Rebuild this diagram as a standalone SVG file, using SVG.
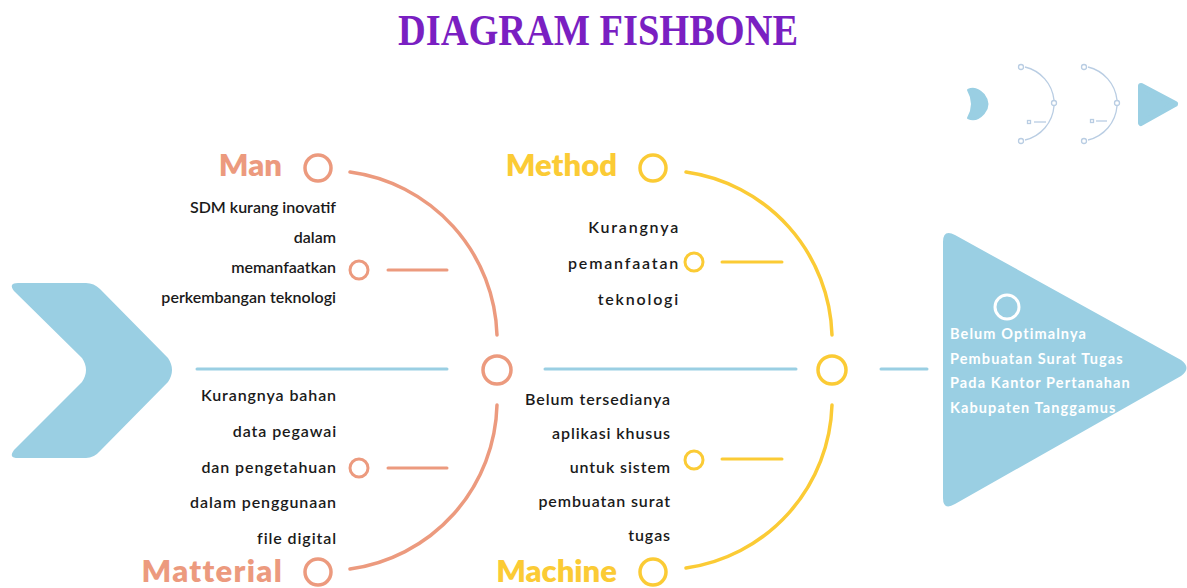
<svg xmlns="http://www.w3.org/2000/svg" width="1187" height="588" viewBox="0 0 1187 588">
<style>
.t{font-family:Lato,"Noto Sans",sans-serif;fill:#1a1a1a;font-size:16px;font-weight:600}
.r{text-anchor:end}
.lab{font-family:Lato,"Noto Sans",sans-serif;font-weight:800;font-size:31px}
.sal{stroke:#EC9A7E;fill:none}
.yel{stroke:#FBCB35;fill:none}
.blu{stroke:#9ACFE3;fill:none}
.ico{stroke:#B9CDE3;fill:none;stroke-width:1.3}
.hd{font-family:Lato,"Noto Sans",sans-serif;fill:#fff;font-size:14.5px;font-weight:700;letter-spacing:1.1px}
</style>
<rect width="1187" height="588" fill="#fff"/>
<text id="title" x="598" y="45" text-anchor="middle" font-family="'Liberation Serif',serif" font-weight="700" font-size="44" fill="#7A1FC2" textLength="400" lengthAdjust="spacingAndGlyphs">DIAGRAM FISHBONE</text>

<g id="icon">
<path d="M968,90 Q976,86 984,95 Q991,104 984,113 Q976,122 968,118 Q976,104 968,90 Z" fill="#9ACFE3" stroke="#9ACFE3" stroke-width="2" stroke-linejoin="round"/>
<path d="M1141,86 L1175,104 L1141,123 Z" fill="#9ACFE3" stroke="#9ACFE3" stroke-width="6" stroke-linejoin="round"/>
<circle class="ico" cx="1021" cy="67" r="2.5"/><circle class="ico" cx="1054" cy="103" r="2.5"/><circle class="ico" cx="1021" cy="141" r="2.5"/>
<path class="ico" d="M1025,67 A38,38 0 0 1 1054,100 M1054,106 A38,38 0 0 1 1025,140"/>
<rect class="ico" x="1027.5" y="120.5" width="3" height="3"/><line class="ico" x1="1034" y1="122" x2="1046" y2="122"/>
<circle class="ico" cx="1084" cy="67" r="2.5"/><circle class="ico" cx="1117" cy="103" r="2.5"/><circle class="ico" cx="1084" cy="141" r="2.5"/>
<path class="ico" d="M1088,67 A38,38 0 0 1 1117,100 M1117,106 A38,38 0 0 1 1088,140"/>
<rect class="ico" x="1090.5" y="119.5" width="3" height="3"/><line class="ico" x1="1096" y1="121" x2="1107" y2="121"/>
</g>

<g id="tail">
<path d="M18,283 L86,283 Q94,283 100,289 L168,358 Q176,370 168,382 L100,451 Q94,458 86,458 L18,458 Q8,458 14,450 L82,382 Q90,370 82,358 L14,291 Q8,283 18,283 Z" fill="#9ACFE3"/>
</g>

<g id="connectors" stroke-linecap="round">
<line class="blu" x1="197" y1="369" x2="447" y2="369" stroke-width="3"/>
<line class="blu" x1="545" y1="369" x2="796" y2="369" stroke-width="3"/>
<line class="blu" x1="881" y1="369" x2="927" y2="369" stroke-width="3"/>
<path class="sal" d="M350,172 A170,170 0 0 1 497,335" stroke-width="3.5"/>
<path class="sal" d="M497,405 A170,170 0 0 1 350,569" stroke-width="3.5"/>
<path class="yel" d="M686,172 A170,170 0 0 1 832,335" stroke-width="3.5"/>
<path class="yel" d="M832,405 A170,170 0 0 1 686,568" stroke-width="3.5"/>
<line class="sal" x1="388" y1="270" x2="447" y2="270" stroke-width="3"/>
<line class="sal" x1="388" y1="468" x2="447" y2="468" stroke-width="3"/>
<line class="yel" x1="722" y1="262" x2="782" y2="262" stroke-width="3"/>
<line class="yel" x1="722" y1="459" x2="782" y2="459" stroke-width="3"/>
</g>

<g id="joint-man"><circle class="sal" cx="497" cy="370" r="14" stroke-width="3.5"/></g>
<g id="joint-method"><circle class="yel" cx="832" cy="370" r="14" stroke-width="3.5"/></g>

<g id="man">
<text class="lab r" x="282" y="176" fill="#EC9A7E">Man</text>
<circle class="sal" cx="318" cy="168" r="13" stroke-width="3.5"/>
<text class="t r" x="336" y="213" font-size="15">SDM kurang inovatif</text>
<text class="t r" x="336" y="243" font-size="15">dalam</text>
<text class="t r" x="336" y="273" font-size="15">memanfaatkan</text>
<text class="t r" x="336" y="303" font-size="15">perkembangan teknologi</text>
<circle class="sal" cx="359" cy="270" r="9" stroke-width="3"/>
</g>

<g id="method">
<text class="lab r" x="617" y="176" fill="#FBCB35">Method</text>
<circle class="yel" cx="653" cy="168" r="13" stroke-width="3.5"/>
<text class="t r" x="680" y="233" font-size="19" letter-spacing="1.8">Kurangnya</text>
<text class="t r" x="680" y="269" font-size="19" letter-spacing="1.8">pemanfaatan</text>
<text class="t r" x="680" y="305" font-size="19" letter-spacing="1.8">teknologi</text>
<circle class="yel" cx="694" cy="262" r="9" stroke-width="3"/>
</g>

<g id="material">
<text class="lab r" x="283" y="582" fill="#EC9A7E" letter-spacing="1.3">Matterial</text>
<circle class="sal" cx="318" cy="572" r="13" stroke-width="3.5"/>
<text class="t r" x="337" y="401" font-size="18" letter-spacing="0.9">Kurangnya bahan</text>
<text class="t r" x="337" y="437" font-size="18" letter-spacing="0.9">data pegawai</text>
<text class="t r" x="337" y="473" font-size="18" letter-spacing="0.9">dan pengetahuan</text>
<text class="t r" x="337" y="508" font-size="18" letter-spacing="0.9">dalam penggunaan</text>
<text class="t r" x="337" y="544" font-size="18" letter-spacing="0.9">file digital</text>
<circle class="sal" cx="359" cy="468" r="9" stroke-width="3"/>
</g>

<g id="machine">
<text class="lab r" x="617" y="582" fill="#FBCB35">Machine</text>
<circle class="yel" cx="653" cy="572" r="13" stroke-width="3.5"/>
<text class="t r" x="671" y="405" font-size="16.5" letter-spacing="0.9">Belum tersedianya</text>
<text class="t r" x="671" y="439" font-size="16.5" letter-spacing="0.9">aplikasi khusus</text>
<text class="t r" x="671" y="473" font-size="16.5" letter-spacing="0.9">untuk sistem</text>
<text class="t r" x="671" y="507" font-size="16.5" letter-spacing="0.9">pembuatan surat</text>
<text class="t r" x="671" y="541" font-size="16.5" letter-spacing="0.9">tugas</text>
<circle class="yel" cx="694" cy="460" r="9" stroke-width="3"/>
</g>

<g id="head">
<path d="M943,242 Q943,229 955,235 L1181,360 Q1192,368 1181,376 L955,504 Q943,511 943,498 Z" fill="#9ACFE3"/>
<circle cx="1007" cy="307" r="12" fill="none" stroke="#fff" stroke-width="3"/>
<text class="hd" x="950" y="339">Belum Optimalnya</text>
<text class="hd" x="950" y="364">Pembuatan Surat Tugas</text>
<text class="hd" x="950" y="388">Pada Kantor Pertanahan</text>
<text class="hd" x="950" y="413">Kabupaten Tanggamus</text>
</g>
</svg>
